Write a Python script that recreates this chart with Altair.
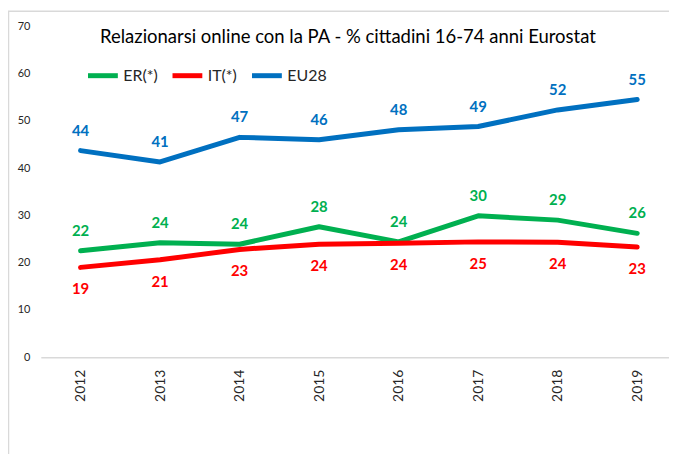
import altair as alt
import pandas as pd

years = [2012, 2013, 2014, 2015, 2016, 2017, 2018, 2019]
series_names = ["ER(*)", "IT(*)", "EU28"]
er_values = [22.5, 24.2, 23.9, 27.6, 24.4, 29.9, 29.0, 26.2]
it_values = [19.0, 20.6, 22.8, 23.9, 24.1, 24.4, 24.3, 23.3]
eu_values = [43.7, 41.3, 46.5, 46.0, 48.1, 48.8, 52.3, 54.5]
er_labels = [22, 24, 24, 28, 24, 30, 29, 26]
it_labels = [19, 21, 23, 24, 24, 25, 24, 23]
eu_labels = [44, 41, 47, 46, 48, 49, 52, 55]
colors = ["#00B050", "#FF0000", "#0070C0"]
y_ticks = [0, 10, 20, 30, 40, 50, 60, 70]

rows = []
for name, vals, labs in zip(series_names, [er_values, it_values, eu_values],
                            [er_labels, it_labels, eu_labels]):
    for yr, v, l in zip(years, vals, labs):
        rows.append({"anno": yr, "serie": name, "valore": v, "etichetta": str(l)})
df = pd.DataFrame(rows)

FONT = "Lato"

x_enc = alt.X("anno:Q", scale=alt.Scale(domain=[2011.5, 2019.4], nice=False, zero=False),
              axis=alt.Axis(values=years, format="d", labelAngle=-90, labelAlign="right",
                            labelBaseline="middle", labelPadding=12, ticks=False, grid=False,
                            domainColor="#D9D9D9", domainWidth=1.5, labelFontSize=14,
                            labelColor="#262626", labelFont=FONT, title=None))
y_enc = alt.Y("valore:Q", scale=alt.Scale(domain=[0, 70], nice=False),
              axis=alt.Axis(values=y_ticks, ticks=False, domain=False, grid=False,
                            labelPadding=11, labelFontSize=11, labelColor="#262626",
                            labelFont=FONT, title=None))
color_enc = alt.Color("serie:N", scale=alt.Scale(domain=series_names, range=colors),
                      sort=series_names,
                      legend=alt.Legend(orient="none", legendX=45, legendY=32,
                                        direction="horizontal", title=None,
                                        symbolType="stroke", symbolSize=900,
                                        symbolStrokeWidth=5, labelFontSize=16,
                                        labelFont=FONT, labelColor="#262626",
                                        labelOffset=3, columnPadding=4))

base = alt.Chart(df)

lines = base.mark_line(strokeWidth=5, strokeCap="round", strokeJoin="round").encode(
    x=x_enc, y=y_enc, color=color_enc, detail="serie:N")

above = base.transform_filter(alt.datum.serie != "IT(*)").mark_text(
    fontSize=15, fontWeight="bold", font=FONT, baseline="bottom", dy=-12).encode(
    x="anno:Q", y="valore:Q", text="etichetta:N",
    color=alt.Color("serie:N", scale=alt.Scale(domain=series_names, range=colors), legend=None))

below = base.transform_filter(alt.datum.serie == "IT(*)").mark_text(
    fontSize=15, fontWeight="bold", font=FONT, baseline="top", dy=15).encode(
    x="anno:Q", y="valore:Q", text="etichetta:N",
    color=alt.Color("serie:N", scale=alt.Scale(domain=series_names, range=colors), legend=None))

border = alt.Chart(pd.DataFrame({"k": [0]})).mark_rect(
    fill=None, stroke="#D9D9D9", strokeWidth=1.5, clip=False).encode(
    x=alt.value(-32.5), x2=alt.value(700), y=alt.value(-15), y2=alt.value(520))

chart = alt.layer(border, lines, above, below).properties(
    width=632, height=333,
    title=alt.TitleParams("Relazionarsi online con la PA - % cittadini 16-74 anni Eurostat",
                          fontSize=18.6, font=FONT, fontWeight="normal", color="#000000",
                          anchor="middle", offset=-36, dx=-7),
    autosize=alt.AutoSizeParams(type="none"),
    padding={"left": 33, "top": 17, "right": 0, "bottom": 96},
    background="white",
).configure_view(stroke=None)

chart.save("out.html", embed_options={"renderer": "svg", "actions": False})
